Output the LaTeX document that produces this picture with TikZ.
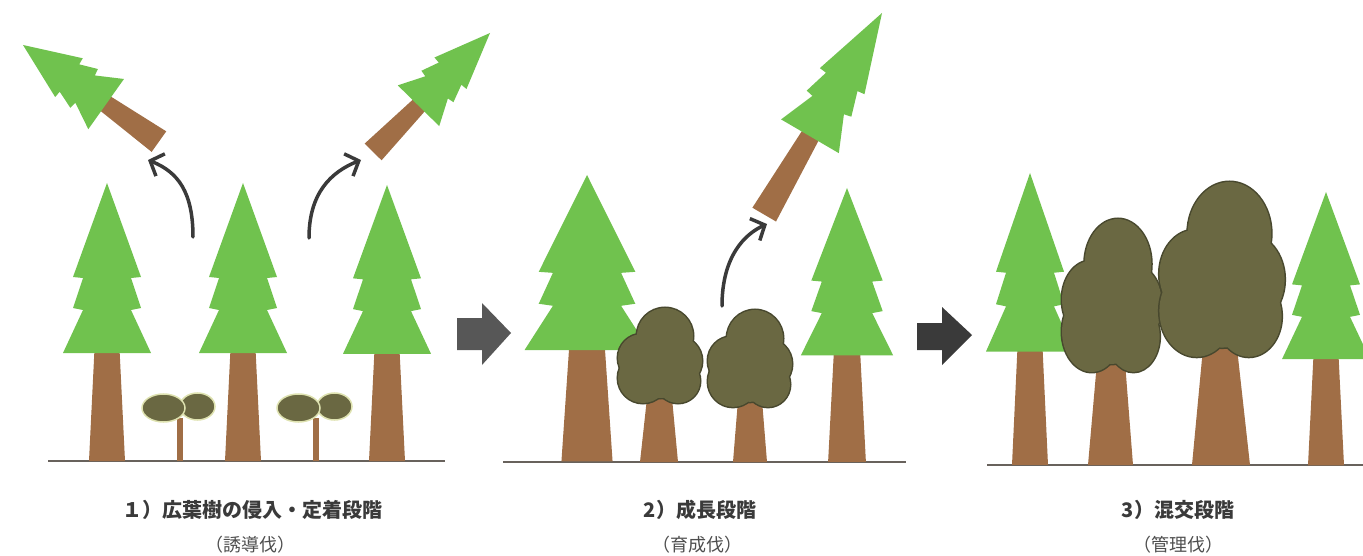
\documentclass[tikz,border=0pt]{standalone}
\usepackage{xcolor}
\usepackage{tikz}
\usetikzlibrary{arrows.meta}
\usepackage{fontspec}
\newfontfamily\jpfont{Noto Sans CJK JP}

\definecolor{verde}{RGB}{112,194,78}
\definecolor{marron}{RGB}{160,110,70}
\definecolor{oliva}{RGB}{106,104,66}
\definecolor{olivaosc}{RGB}{72,72,46}
\definecolor{palido}{RGB}{222,226,176}
\definecolor{suelo}{RGB}{104,98,92}
\definecolor{gris}{RGB}{58,58,58}

% conifera: punta en el origen, suelo a 278
\newcommand{\conifera}[1]{%
\begin{scope}[#1]
\fill[tronco] (-12.5,166) -- (12.5,166) -- (18,278) -- (-18,278) -- cycle;
\fill[verde] (0,0) -- (34,94) -- (24,95) -- (34,125) -- (24,127) -- (44,170)
  -- (-44,170) -- (-24,127) -- (-34,125) -- (-24,95) -- (-34,94) -- cycle;
\end{scope}}

% copa de frondosa: centro arriba en el origen, 84 x 95
\newcommand{\frondosa}[1]{%
\begin{scope}[#1]
\foreach \cx/\cy/\r in {5/28/28, -18/50/24, -17/70/25, 17/53/25, 18/73/22, 0/60/30}
  \draw[line width=3pt, olivaosc] (\cx,\cy) circle (\r);
\foreach \cx/\cy/\r in {5/28/28, -18/50/24, -17/70/25, 17/53/25, 18/73/22, 0/60/30}
  \fill[oliva] (\cx,\cy) circle (\r);
\end{scope}}

\begin{document}
\begin{tikzpicture}[x=1pt, y=-1pt,
  tronco/.style={fill=marron},
  brote/.style={fill=oliva, draw=palido, line width=1.5pt},
  corte/.style={line width=3.5pt, draw=gris, line cap=round,
    -{Straight Barb[length=11pt, width=24pt]}},
  titulo/.style={text=gris, font=\jpfont\bfseries\fontsize{20}{24}\selectfont},
  subtitulo/.style={text=gris!90, font=\jpfont\fontsize{18}{22}\selectfont}]

\useasboundingbox (0,0) rectangle (1363,556);

% suelo
\draw[suelo, line width=2pt] (48,461) -- (445,461);
\draw[suelo, line width=2pt] (503,462) -- (906,462);
\draw[suelo, line width=2pt] (987,465) -- (1363,465);

%% 1) invasion
\conifera{shift={(107,183)}}
\conifera{shift={(243,183)}}
\conifera{shift={(387,185)}, yscale=0.993}

% brotes
\fill[tronco] (177,418) rectangle (183,461);
\filldraw[brote] (197.5,406.5) ellipse [x radius=17.5, y radius=13.5];
\filldraw[brote] (163.5,408) ellipse [x radius=21.5, y radius=14];
\fill[tronco] (313,418) rectangle (319,461);
\filldraw[brote] (334.5,406.5) ellipse [x radius=17.5, y radius=13.5];
\filldraw[brote] (298.5,408) ellipse [x radius=21.5, y radius=14];

% arboles cortados
\conifera{shift={(23,45)}, rotate=54.6, xscale=0.7, yscale=0.6}
\conifera{shift={(490,33)}, rotate=-44.5, xscale=0.66, yscale=0.6}

\coordinate (c1a) at (193,237);
\coordinate (c1b) at (148,160);
\coordinate (c2a) at (309,238);
\coordinate (c2b) at (361,160);
\draw[corte] (c1a) .. controls +(0,-45) and +(30,12) .. (c1b);
\draw[corte] (c2a) .. controls +(0,-45) and +(-30,12) .. (c2b);

% flecha
\fill[gris!85] (457,318) -- (482,318) -- (482,303) -- (511,333) -- (482,365)
  -- (482,350) -- (457,350) -- cycle;

%% 2) crecimiento
\conifera{shift={(587,175)}, xscale=1.42, yscale=1.03}
\conifera{shift={(847,188)}, xscale=1.05, yscale=0.985}

\fill[tronco] (647,398) -- (672,398) -- (678,462) -- (640,462) -- cycle;
\frondosa{shift={(660,308)}}
\fill[tronco] (738,400) -- (762,400) -- (767,462) -- (733,462) -- cycle;
\frondosa{shift={(750,310)}, yscale=1.02}

\conifera{shift={(882,13)}, rotate=-30.3, xscale=0.76, yscale=0.84}
\coordinate (c3a) at (722,306);
\coordinate (c3b) at (767,224);
\draw[corte] (c3a) .. controls +(0,-50) and +(-22,10) .. (c3b);

\fill[gris] (917,323) -- (942,323) -- (942,307) -- (972,335) -- (942,365)
  -- (942,350) -- (917,350) -- cycle;

%% 3) mixto
\conifera{shift={(1030,173)}, yscale=1.05}
\conifera{shift={(1326,192)}, yscale=0.983}

\fill[tronco] (1097,362) -- (1125,362) -- (1133,465) -- (1088,465) -- cycle;
\frondosa{shift={(1112,219)}, xscale=1.19, yscale=1.61}
\fill[tronco] (1203,348) -- (1237,348) -- (1250,465) -- (1192,465) -- cycle;
\frondosa{shift={(1222,182)}, xscale=1.49, yscale=1.84}

% textos
\node[titulo] (t1) at (252,510) {１）広葉樹の侵入・定着段階};
\node[subtitulo] (s1) at (250,545) {（誘導伐）};
\node[titulo] (t2) at (700,510) {2）成長段階};
\node[subtitulo] (s2) at (697,545) {（育成伐）};
\node[titulo] (t3) at (1178,510) {3）混交段階};
\node[subtitulo] (s3) at (1178,545) {（管理伐）};

\end{tikzpicture}
\end{document}
